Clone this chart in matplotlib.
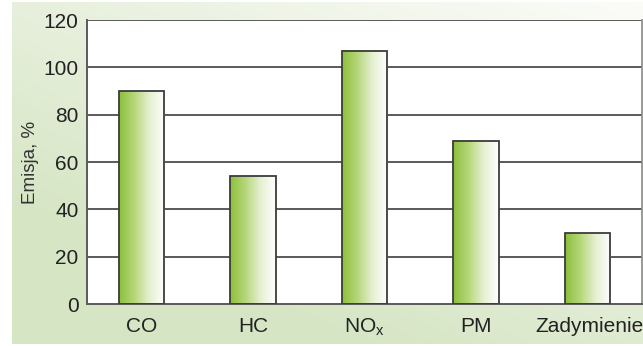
import numpy as np
import matplotlib
matplotlib.use("Agg")
import matplotlib.pyplot as plt
from matplotlib.colors import LinearSegmentedColormap
from matplotlib.transforms import ScaledTranslation

categories = ["CO", "HC", "NO$_\\mathregular{x}$", "PM", "Zadymienie"]
values = [90, 54, 107, 69, 30]
yticks = [0, 20, 40, 60, 80, 100, 120]

plt.rcParams["font.family"] = ["Liberation Sans", "DejaVu Sans"]
plt.rcParams["mathtext.fontset"] = "custom"
plt.rcParams["mathtext.rm"] = "Liberation Sans"

W, H = 643, 346
fig = plt.figure(figsize=(W / 100, H / 100), dpi=100)
fig.patch.set_facecolor("white")

# soft green panel behind the chart: pale at top-right, greener at bottom-left
bg = fig.add_axes([12 / W, 2 / H, 631 / W, 342 / H], zorder=0)
gx = np.linspace(0, 1, 200)[None, :]
gy = np.linspace(0, 1, 120)[:, None]
t = np.clip(0.55 * (1 - gx) + 0.75 * gy, 0, 1)
light = np.array([0.985, 0.988, 0.975])
green = np.array([0.84, 0.90, 0.77])
img = light[None, None, :] * (1 - t[..., None]) + green[None, None, :] * t[..., None]
bg.imshow(img, aspect="auto", extent=(0, 1, 0, 1), origin="upper")
bg.axis("off")

ax = fig.add_axes([87 / W, 42 / H, 555 / W, 284 / H], zorder=1)
ax.set_facecolor("white")

x = np.arange(len(categories))
width = 0.41

grid_col = "#5a5a5a"
for yv in yticks[1:]:
    ax.axhline(yv, color=grid_col, lw=1.4, zorder=1)

# bars with a green-to-white horizontal fill
bar_cmap = LinearSegmentedColormap.from_list(
    "bar", ["#8cbf3a", "#b6d67a", "#e6f0d2", "#ffffff"])
grad = np.linspace(0, 1, 256)[None, :]
for xi, v in zip(x, values):
    ax.imshow(grad, cmap=bar_cmap, aspect="auto",
              extent=(xi - width / 2, xi + width / 2, 0, v), zorder=2)
    ax.bar(xi, v, width=width, facecolor="none", edgecolor="#3c3c3c",
           lw=1.3, zorder=3)

ax.set_xlim(-0.49, 4.49)
ax.set_ylim(0, 120)

for s in ["top", "right"]:
    ax.spines[s].set_visible(False)
for s in ["left", "bottom"]:
    ax.spines[s].set_color(grid_col)
    ax.spines[s].set_linewidth(1.4)
ax.axvline(4.49, color="#8a8a8a", lw=1.2, zorder=1, clip_on=False)

ax.set_yticks(yticks)
ax.set_yticklabels([str(v) for v in yticks], fontsize=15, color="#222222")
ax.set_xticks(x)
ax.set_xticklabels(categories, fontsize=15, color="#222222")
ax.tick_params(axis="y", length=0, pad=6)
ax.tick_params(axis="x", length=0, pad=9)

# nudge the last label slightly right while keeping it inside the figure
lbl = ax.get_xticklabels()[-1]
lbl.set_transform(lbl.get_transform() + ScaledTranslation(2 / 100, 0, fig.dpi_scale_trans))

ax.set_ylabel("Emisja, %", fontsize=13.5, color="#333333", labelpad=3)

fig.savefig("out.png", dpi=100)
